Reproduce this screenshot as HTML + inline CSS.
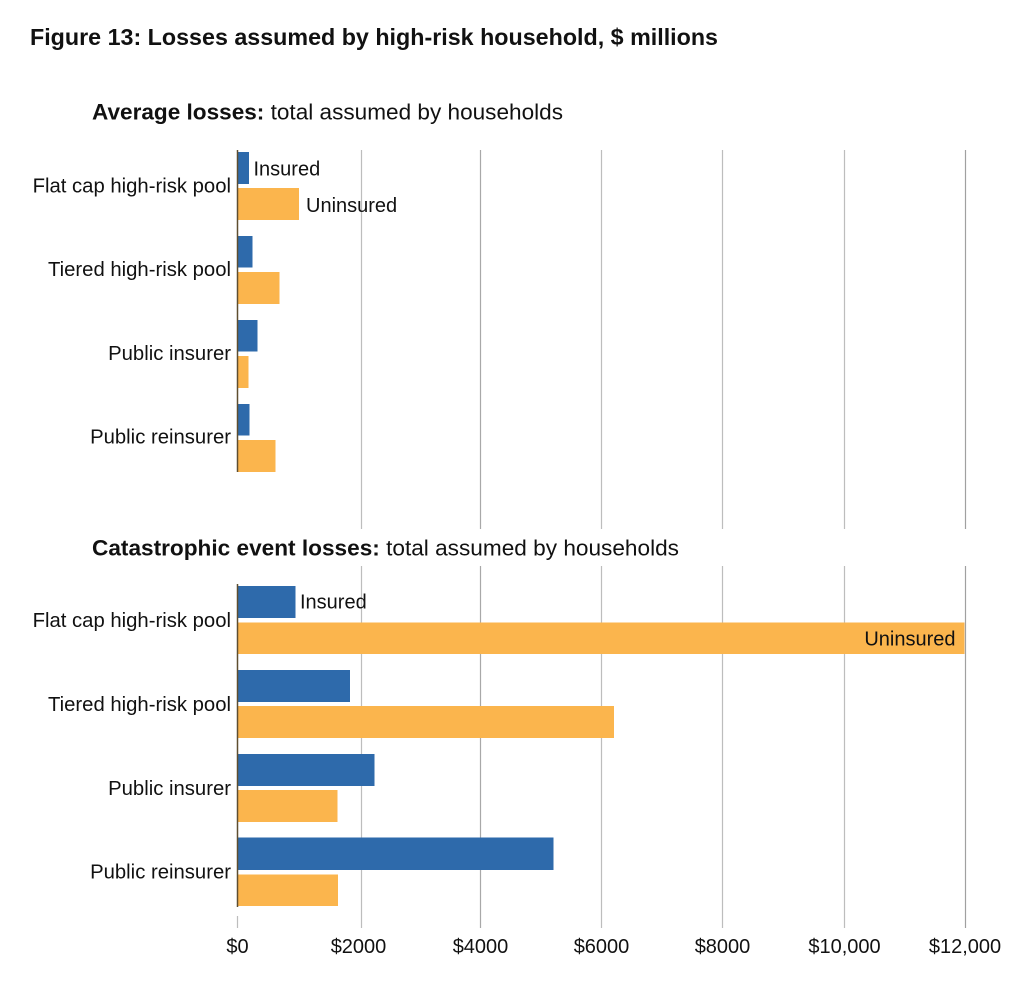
<!DOCTYPE html>
<html>
<head>
<meta charset="utf-8">
<style>
html,body{margin:0;padding:0;background:#fff;}
svg{display:block;}
text{font-family:"Liberation Sans",Arial,sans-serif;fill:#111;}
</style>
</head>
<body>
<svg width="1020" height="988" viewBox="0 0 1020 988" xmlns="http://www.w3.org/2000/svg">
<rect width="1020" height="988" fill="#fff"/>
<!-- Title -->
<text x="30" y="45" font-size="23" font-weight="bold" textLength="688" lengthAdjust="spacingAndGlyphs">Figure 13: Losses assumed by high-risk household, $ millions</text>

<!-- Subtitle 1 -->
<text x="92" y="119.5" font-size="22" textLength="471" lengthAdjust="spacingAndGlyphs"><tspan font-weight="bold">Average losses:</tspan> total assumed by households</text>

<!-- Top chart gridlines -->
<g stroke="#bdbdbd" stroke-width="1.2">
<line x1="361.5" y1="150" x2="361.5" y2="529"/>
<line x1="480.5" y1="150" x2="480.5" y2="529" stroke="#a8a8a8"/>
<line x1="601.5" y1="150" x2="601.5" y2="529"/>
<line x1="722.5" y1="150" x2="722.5" y2="529"/>
<line x1="844.5" y1="150" x2="844.5" y2="529"/>
<line x1="965.5" y1="150" x2="965.5" y2="529" stroke="#a0a0a0"/>
</g>

<!-- Top chart bars -->
<g>
<rect x="237.5" y="152" width="11.5" height="32" fill="#2e6aab"/>
<rect x="237.5" y="188" width="61.5" height="32" fill="#fbb54d"/>
<rect x="237.5" y="236" width="15" height="31.5" fill="#2e6aab"/>
<rect x="237.5" y="272" width="42" height="32" fill="#fbb54d"/>
<rect x="237.5" y="320" width="20" height="31.5" fill="#2e6aab"/>
<rect x="237.5" y="356" width="11" height="32" fill="#fbb54d"/>
<rect x="237.5" y="404" width="12" height="31.5" fill="#2e6aab"/>
<rect x="237.5" y="440" width="38" height="32" fill="#fbb54d"/>
</g>
<line x1="237.5" y1="150" x2="237.5" y2="472" stroke="#5e4e30" stroke-width="1.5"/>

<!-- Top chart labels -->
<g font-size="20.3" text-anchor="end">
<text x="231" y="192.5">Flat cap high-risk pool</text>
<text x="231" y="276">Tiered high-risk pool</text>
<text x="231" y="360">Public insurer</text>
<text x="231" y="443.5">Public reinsurer</text>
</g>
<text x="253.5" y="175.5" font-size="20">Insured</text>
<text x="306" y="212" font-size="20">Uninsured</text>

<!-- Subtitle 2 -->
<text x="92" y="555.5" font-size="22" textLength="587" lengthAdjust="spacingAndGlyphs"><tspan font-weight="bold">Catastrophic event losses:</tspan> total assumed by households</text>

<!-- Bottom chart gridlines -->
<g stroke="#bdbdbd" stroke-width="1.2">
<line x1="361.5" y1="566" x2="361.5" y2="928"/>
<line x1="480.5" y1="566" x2="480.5" y2="928" stroke="#a8a8a8"/>
<line x1="601.5" y1="566" x2="601.5" y2="928"/>
<line x1="722.5" y1="566" x2="722.5" y2="928"/>
<line x1="844.5" y1="566" x2="844.5" y2="928"/>
<line x1="965.5" y1="566" x2="965.5" y2="928" stroke="#a0a0a0"/>
<line x1="237.5" y1="916" x2="237.5" y2="928"/>
</g>

<!-- Bottom chart bars -->
<g>
<rect x="237.5" y="586" width="58" height="32" fill="#2e6aab"/>
<rect x="237.5" y="622.5" width="727" height="31.5" fill="#fbb54d"/>
<rect x="237.5" y="670" width="112.5" height="32" fill="#2e6aab"/>
<rect x="237.5" y="706" width="376.5" height="32" fill="#fbb54d"/>
<rect x="237.5" y="754" width="137" height="32" fill="#2e6aab"/>
<rect x="237.5" y="790" width="100" height="32" fill="#fbb54d"/>
<rect x="237.5" y="837.5" width="316" height="32.5" fill="#2e6aab"/>
<rect x="237.5" y="874.5" width="100.5" height="31.5" fill="#fbb54d"/>
</g>
<line x1="237.5" y1="584" x2="237.5" y2="907" stroke="#5e4e30" stroke-width="1.5"/>

<!-- Bottom chart labels -->
<g font-size="20.3" text-anchor="end">
<text x="231" y="627">Flat cap high-risk pool</text>
<text x="231" y="711">Tiered high-risk pool</text>
<text x="231" y="795">Public insurer</text>
<text x="231" y="878.5">Public reinsurer</text>
</g>
<text x="300" y="608.5" font-size="20">Insured</text>
<text x="955.5" y="645.5" font-size="20" text-anchor="end">Uninsured</text>

<!-- X axis tick labels -->
<g font-size="20" text-anchor="middle">
<text x="237.5" y="953">$0</text>
<text x="358.5" y="953">$2000</text>
<text x="480.5" y="953">$4000</text>
<text x="601.5" y="953">$6000</text>
<text x="722.5" y="953">$8000</text>
<text x="844.5" y="953">$10,000</text>
<text x="965" y="953">$12,000</text>
</g>
</svg>
</body>
</html>
